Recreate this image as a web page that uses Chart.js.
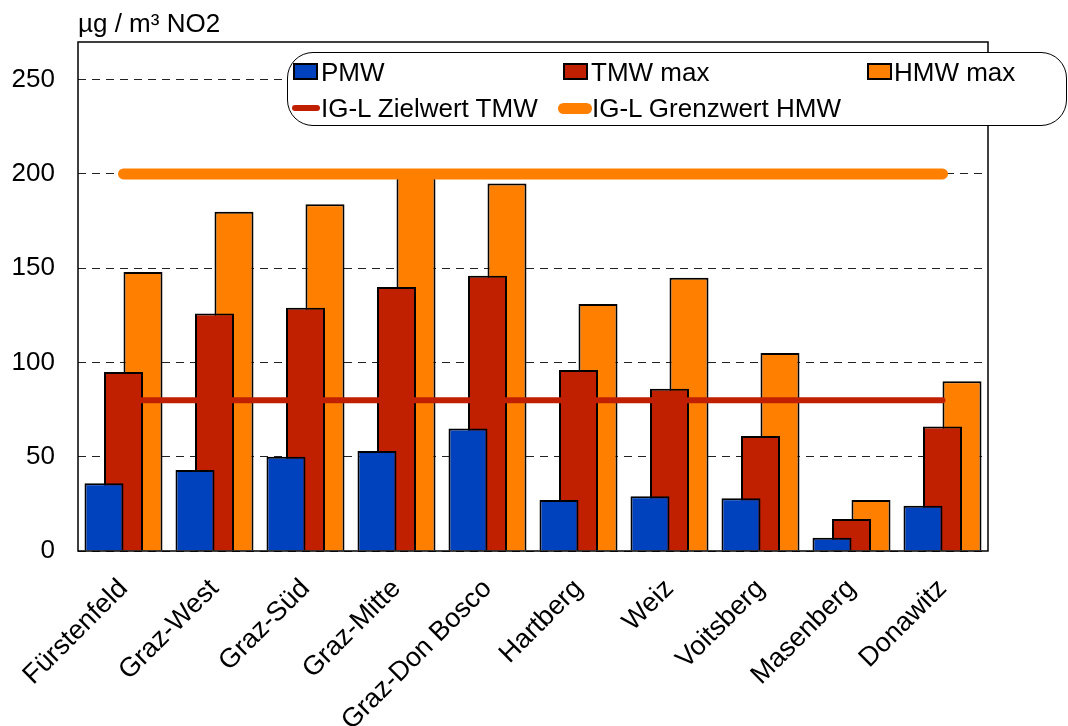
<!DOCTYPE html>
<html>
<head>
<meta charset="utf-8">
<script src="https://cdn.jsdelivr.net/npm/chart.js@4/dist/chart.umd.min.js"></script>
<style>
  html, body { margin: 0; padding: 0; background: #fff; }
  #wrap { position: relative; width: 1068px; height: 726px; overflow: hidden; font-family: "Liberation Sans", Arial, sans-serif; }
  canvas { position: absolute; left: 0; top: 0; }
  .t { position: absolute; font-size: 26px; line-height: 26px; color: #000; white-space: nowrap; }
  #legend { position: absolute; left: 287px; top: 52px; width: 778px; height: 72px; border: 1.5px solid #000; border-radius: 26px; background: #fff; }
  .sw { position: absolute; box-sizing: border-box; border: 2px solid #000; }
  .ln { position: absolute; border-radius: 6px; }
</style>
</head>
<body>
<div id="wrap">
  <canvas id="c" width="1068" height="726"></canvas>
  <div class="t" style="left:78px; top:10px;">µg / m³ NO2</div>
  <div id="legend"></div>
  <div class="sw" style="left:293px; top:63px; width:25px; height:17px; background:#0041BE;"></div>
  <div class="t" style="left:321px; top:59px;">PMW</div>
  <div class="sw" style="left:563px; top:63px; width:25px; height:17px; background:#C02000;"></div>
  <div class="t" style="left:591px; top:59px;">TMW max</div>
  <div class="sw" style="left:867px; top:63px; width:25px; height:17px; background:#FF8000;"></div>
  <div class="t" style="left:894px; top:59px;">HMW max</div>
  <div class="ln" style="left:292px; top:105px; width:28px; height:6px; background:#C02000;"></div>
  <div class="t" style="left:321px; top:95px;">IG-L Zielwert TMW</div>
  <div class="ln" style="left:558px; top:103px; width:34px; height:11px; background:#FF8000;"></div>
  <div class="t" style="left:592px; top:95px;">IG-L Grenzwert HMW</div>
</div>
<script>
const categories = ["Fürstenfeld", "Graz-West", "Graz-Süd", "Graz-Mitte", "Graz-Don Bosco", "Hartberg", "Weiz", "Voitsberg", "Masenberg", "Donawitz"];
const pmw    = [36, 43, 50, 53, 65, 27, 29, 28, 7, 24];
const tmwMax = [95, 126, 129, 140, 146, 96, 86, 61, 17, 66];
const hmwMax = [148, 180, 184, 201, 195, 131, 145, 105, 27, 90];
const zielwertTMW  = [80, 80, 80, 80, 80, 80, 80, 80, 80, 80];
const grenzwertHMW = [200, 200, 200, 200, 200, 200, 200, 200, 200, 200];
const yTicks = [0, 50, 100, 150, 200, 250];

Chart.defaults.font.family = '"Liberation Sans", Arial, sans-serif';
Chart.defaults.color = '#000';

const framePlugin = {
  id: 'frame',
  afterDatasetsDraw(chart) {
    const a = chart.chartArea, ctx = chart.ctx;
    ctx.save();
    ctx.strokeStyle = '#000';
    ctx.lineWidth = 1.5;
    ctx.strokeRect(a.left, a.top, a.right - a.left, a.bottom - a.top);
    ctx.restore();
  }
};

const barCommon = { borderColor: '#000', borderWidth: 2, borderSkipped: 'start', categoryPercentage: 0.643, barPercentage: 2.0 };

new Chart(document.getElementById('c'), {
  type: 'bar',
  data: {
    labels: categories,
    datasets: [
      Object.assign({ label: 'PMW', data: pmw, backgroundColor: '#0041BE', order: 1 }, barCommon),
      Object.assign({ label: 'TMW max', data: tmwMax, backgroundColor: '#C02000', order: 2 }, barCommon),
      Object.assign({ label: 'HMW max', data: hmwMax, backgroundColor: '#FF8000', order: 3 }, barCommon),
      { type: 'line', label: 'IG-L Zielwert TMW', data: zielwertTMW, borderColor: '#C02000', borderWidth: 6, pointRadius: 0, borderCapStyle: 'round', fill: false, order: 0 },
      { type: 'line', label: 'IG-L Grenzwert HMW', data: grenzwertHMW, borderColor: '#FF8000', borderWidth: 11, pointRadius: 0, borderCapStyle: 'round', fill: false, order: 0 }
    ]
  },
  options: {
    responsive: false,
    animation: false,
    layout: { padding: { left: 0, top: 42, right: 80, bottom: 0 } },
    plugins: { legend: { display: false }, tooltip: { enabled: false } },
    scales: {
      x: {
        offset: true,
        grid: { display: false, drawTicks: false },
        border: { display: false },
        ticks: { font: { size: 27 }, color: '#000', minRotation: 45, maxRotation: 45, autoSkip: false, padding: 22 },
        afterFit(s) { s.height = 175; s.paddingLeft = 0; s.paddingRight = 0; }
      },
      y: {
        min: 0, max: 270,
        afterBuildTicks(s) { s.ticks = yTicks.map(v => ({ value: v })); },
        grid: { color: '#222', lineWidth: 1, drawTicks: false },
        border: { display: false, dash: [8, 6] },
        ticks: { font: { size: 26 }, color: '#000', padding: 23 },
        afterFit(s) { s.width = 78; s.paddingTop = 0; s.paddingBottom = 0; }
      }
    }
  },
  plugins: [framePlugin]
});
</script>
</body>
</html>
